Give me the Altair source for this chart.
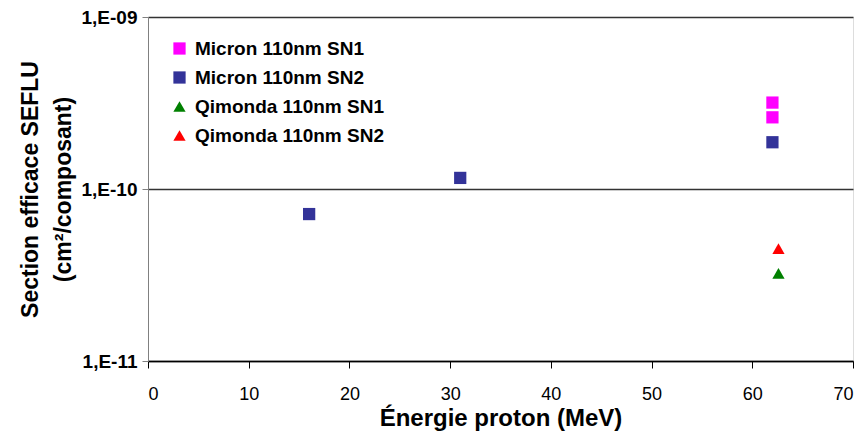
import altair as alt
import pandas as pd

series = ["Micron 110nm SN1", "Micron 110nm SN1", "Micron 110nm SN2", "Micron 110nm SN2",
          "Micron 110nm SN2", "Qimonda 110nm SN1", "Qimonda 110nm SN2"]
energy = [62.0, 62.0, 16.0, 31.0, 62.0, 62.6, 62.6]
sigma = [3.18e-10, 2.61e-10, 7.15e-11, 1.16e-10, 1.87e-10, 3.23e-11, 4.5e-11]

legend_order = ["Micron 110nm SN1", "Micron 110nm SN2", "Qimonda 110nm SN1", "Qimonda 110nm SN2"]
colors = ["#FF00FF", "#333399", "#008000", "#FF0000"]
shapes = ["square", "square", "triangle-up", "triangle-up"]
y_ticks = [1e-11, 1e-10, 1e-9]
x_ticks = [0, 10, 20, 30, 40, 50, 60, 70]

df = pd.DataFrame({"serie": series, "energie": energy, "sigma": sigma})

FONT = "Liberation Sans, Arial, sans-serif"

points = alt.Chart(df).mark_point(filled=True, size=150, opacity=1).encode(
    x=alt.X("energie:Q",
            scale=alt.Scale(domain=[0, 70], nice=False, zero=False),
            axis=alt.Axis(values=x_ticks, title="Énergie proton (MeV)", grid=False,
                          domainColor="#000000", domainWidth=1.5, tickColor="#000000", tickSize=7,
                          labelFont=FONT, labelFontSize=18, labelFontWeight="normal",
                          labelColor="#000000", labelPadding=17,
                          titleFont=FONT, titleFontSize=24, titleFontWeight="bold",
                          titleColor="#000000", titlePadding=3)),
    y=alt.Y("sigma:Q",
            scale=alt.Scale(type="log", domain=[1e-11, 1e-9], nice=False),
            axis=alt.Axis(values=y_ticks, title=["Section efficace SEFLU", "(cm²/composant)"],
                          labelExpr="'1,E-' + format(-round(log(datum.value)/LN10), '02d')",
                          grid=True, gridColor="#333333", gridWidth=1.5,
                          domainColor="#808080", tickColor="#808080", tickSize=6,
                          labelFont=FONT, labelFontSize=19, labelFontWeight="bold",
                          labelColor="#000000", labelPadding=5,
                          titleFont=FONT, titleFontSize=23, titleFontWeight="bold",
                          titleColor="#000000", titlePadding=6, titleLineHeight=33)),
    color=alt.Color("serie:N", scale=alt.Scale(domain=legend_order, range=colors),
                    legend=alt.Legend(title=None, orient="none", legendX=22, legendY=22,
                                      labelFont=FONT, labelFontSize=19, labelFontWeight="bold",
                                      labelColor="#000000", symbolSize=150, rowPadding=9,
                                      symbolOpacity=1, labelOffset=6, labelLimit=400)),
    shape=alt.Shape("serie:N", scale=alt.Scale(domain=legend_order, range=shapes), legend=None),
)

chart = points.properties(
    width=705, height=344,
    autosize=alt.AutoSizeParams(type="none"),
    padding={"left": 140, "top": 9, "right": 6, "bottom": 70},
).configure_view(stroke="#808080", strokeWidth=1).configure(background="white")

chart.save("out.html", embed_options={"renderer": "svg", "actions": False})
